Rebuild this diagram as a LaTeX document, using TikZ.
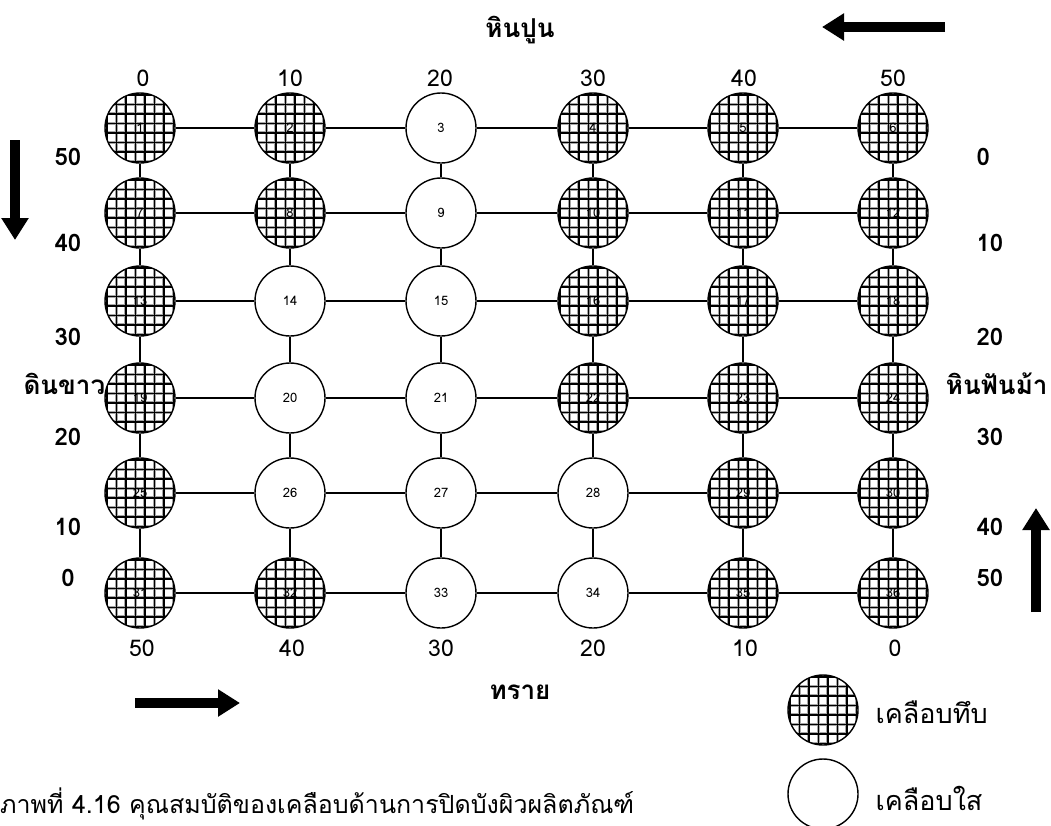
\documentclass[tikz,border=0pt]{standalone}
\usepackage{fontspec}
\newfontfamily\thai[Script=Thai]{Loma}
\usetikzlibrary{arrows.meta,calc}

\tikzset{
  disc/.style={circle, draw, line width=1.4pt, minimum size=70pt, inner sep=0pt,
    fill=white, font=\thai\fontsize{13}{13}\selectfont},
  opaque/.style={disc, path picture={
      \foreach \k in {-33.25,-23.75,-14.25,-4.75,4.75,14.25,23.75,33.25}{
        \draw[black!35, line width=3.4pt]
          ($(path picture bounding box.center)+(\k pt,-40pt)$) -- ++(0pt,80pt);
        \draw[black!35, line width=3.4pt]
          ($(path picture bounding box.center)+(-40pt,\k pt)$) -- ++(80pt,0pt);
      }
      \foreach \k in {-33.25,-23.75,-14.25,-4.75,4.75,14.25,23.75,33.25}{
        \draw[black, line width=1.5pt]
          ($(path picture bounding box.center)+(\k pt,-40pt)$) -- ++(0pt,80pt);
        \draw[black, line width=1.5pt]
          ($(path picture bounding box.center)+(-40pt,\k pt)$) -- ++(80pt,0pt);
      }
    }},
  clear/.style={disc},
  link/.style={line width=1.3pt},
  scale label/.style={font=\thai\fontsize{23}{23}\selectfont},
  side label/.style={font=\thai\bfseries\fontsize{24}{24}\selectfont},
  side title/.style={font=\thai\bfseries\fontsize{26}{26}\selectfont},
  legend text/.style={font=\thai\fontsize{27}{27}\selectfont, anchor=west},
  bigarrow/.style={line width=10pt, -{Triangle[length=22pt,width=26pt]}},
}

\begin{document}
\begin{tikzpicture}[x=1pt, y=-1pt]
\useasboundingbox[fill=white] (0,0) rectangle (1051,825);

% grid of glaze samples
\node[opaque] (c1)  at (140,128) {1};
\node[opaque] (c2)  at (290,128) {2};
\node[clear]  (c3)  at (441,128) {3};
\node[opaque] (c4)  at (593,128) {4};
\node[opaque] (c5)  at (743,128) {5};
\node[opaque] (c6)  at (893,128) {6};

\node[opaque] (c7)  at (140,213) {7};
\node[opaque] (c8)  at (290,213) {8};
\node[clear]  (c9)  at (441,213) {9};
\node[opaque] (c10) at (593,213) {10};
\node[opaque] (c11) at (743,213) {11};
\node[opaque] (c12) at (893,213) {12};

\node[opaque] (c13) at (140,301) {13};
\node[clear]  (c14) at (290,301) {14};
\node[clear]  (c15) at (441,301) {15};
\node[opaque] (c16) at (593,301) {16};
\node[opaque] (c17) at (743,301) {17};
\node[opaque] (c18) at (893,301) {18};

\node[opaque] (c19) at (140,398) {19};
\node[clear]  (c20) at (290,398) {20};
\node[clear]  (c21) at (441,398) {21};
\node[opaque] (c22) at (593,398) {22};
\node[opaque] (c23) at (743,398) {23};
\node[opaque] (c24) at (893,398) {24};

\node[opaque] (c25) at (140,493) {25};
\node[clear]  (c26) at (290,493) {26};
\node[clear]  (c27) at (441,493) {27};
\node[clear]  (c28) at (593,493) {28};
\node[opaque] (c29) at (743,493) {29};
\node[opaque] (c30) at (893,493) {30};

\node[opaque] (c31) at (140,593) {31};
\node[opaque] (c32) at (290,593) {32};
\node[clear]  (c33) at (441,593) {33};
\node[clear]  (c34) at (593,593) {34};
\node[opaque] (c35) at (743,593) {35};
\node[opaque] (c36) at (893,593) {36};

% horizontal and vertical links
\foreach \r in {0,...,5}{
  \foreach \c in {1,...,5}{
    \pgfmathtruncatemacro\a{\r*6+\c}
    \pgfmathtruncatemacro\b{\r*6+\c+1}
    \draw[link] (c\a) -- (c\b);
  }
}
\foreach \r in {0,...,4}{
  \foreach \c in {1,...,6}{
    \pgfmathtruncatemacro\a{\r*6+\c}
    \pgfmathtruncatemacro\b{\r*6+\c+6}
    \draw[link] (c\a) -- (c\b);
  }
}

% top scale
\node[scale label] (t0) at (143,78) {0};
\node[scale label] (t1) at (290,78) {10};
\node[scale label] (t2) at (440,78) {20};
\node[scale label] (t3) at (593,78) {30};
\node[scale label] (t4) at (744,78) {40};
\node[scale label] (t5) at (893,78) {50};

% bottom scale
\node[scale label] (b0) at (142,648) {50};
\node[scale label] (b1) at (292,648) {40};
\node[scale label] (b2) at (441,648) {30};
\node[scale label] (b3) at (593,648) {20};
\node[scale label] (b4) at (745,648) {10};
\node[scale label] (b5) at (895,648) {0};

% left scale
\node[side label] (l0) at (68,157) {50};
\node[side label] (l1) at (68,243) {40};
\node[side label] (l2) at (68,337) {30};
\node[side label] (l3) at (68,437) {20};
\node[side label] (l4) at (68,527) {10};
\node[side label] (l5) at (68,578) {0};

% right scale
\node[side label, anchor=west] (r0) at (973,157) {0};
\node[side label, anchor=west] (r1) at (973,243) {10};
\node[side label, anchor=west] (r2) at (973,337) {20};
\node[side label, anchor=west] (r3) at (973,437) {30};
\node[side label, anchor=west] (r4) at (973,527) {40};
\node[side label, anchor=west] (r5) at (973,578) {50};

% material names
\node[side title] (top)    at (520,30)  {หินปูน};
\node[side title] (bottom) at (520,692) {ทราย};
\node[side title, anchor=west] (left)  at (20,384)  {ดินขาว};
\node[side title, anchor=east] (right) at (1051,384) {หินฟันม้า};

% direction arrows
\coordinate (ta1) at (945,27);  \coordinate (ta2) at (822,27);
\coordinate (la1) at (15,140);  \coordinate (la2) at (15,240);
\coordinate (ra1) at (1036,612); \coordinate (ra2) at (1036,508);
\coordinate (ba1) at (135,703); \coordinate (ba2) at (240,703);
\draw[bigarrow] (ta1) -- (ta2);
\draw[bigarrow] (la1) -- (la2);
\draw[bigarrow] (ra1) -- (ra2);
\draw[bigarrow] (ba1) -- (ba2);

% legend
\node[opaque] (k1) at (823,710) {};
\node[clear]  (k2) at (823,794) {};
\node[legend text] (k1t) at (872,712) {เคลือบทึบ};
\node[legend text] (k2t) at (872,798) {เคลือบใส};

% caption
\node[font=\thai\fontsize{25}{25}\selectfont, anchor=west, inner sep=0pt] (cap) at (0,804)
  {ภาพที่ 4.16 คุณสมบัติของเคลือบด้านการปิดบังผิวผลิตภัณฑ์};
\end{tikzpicture}
\end{document}
